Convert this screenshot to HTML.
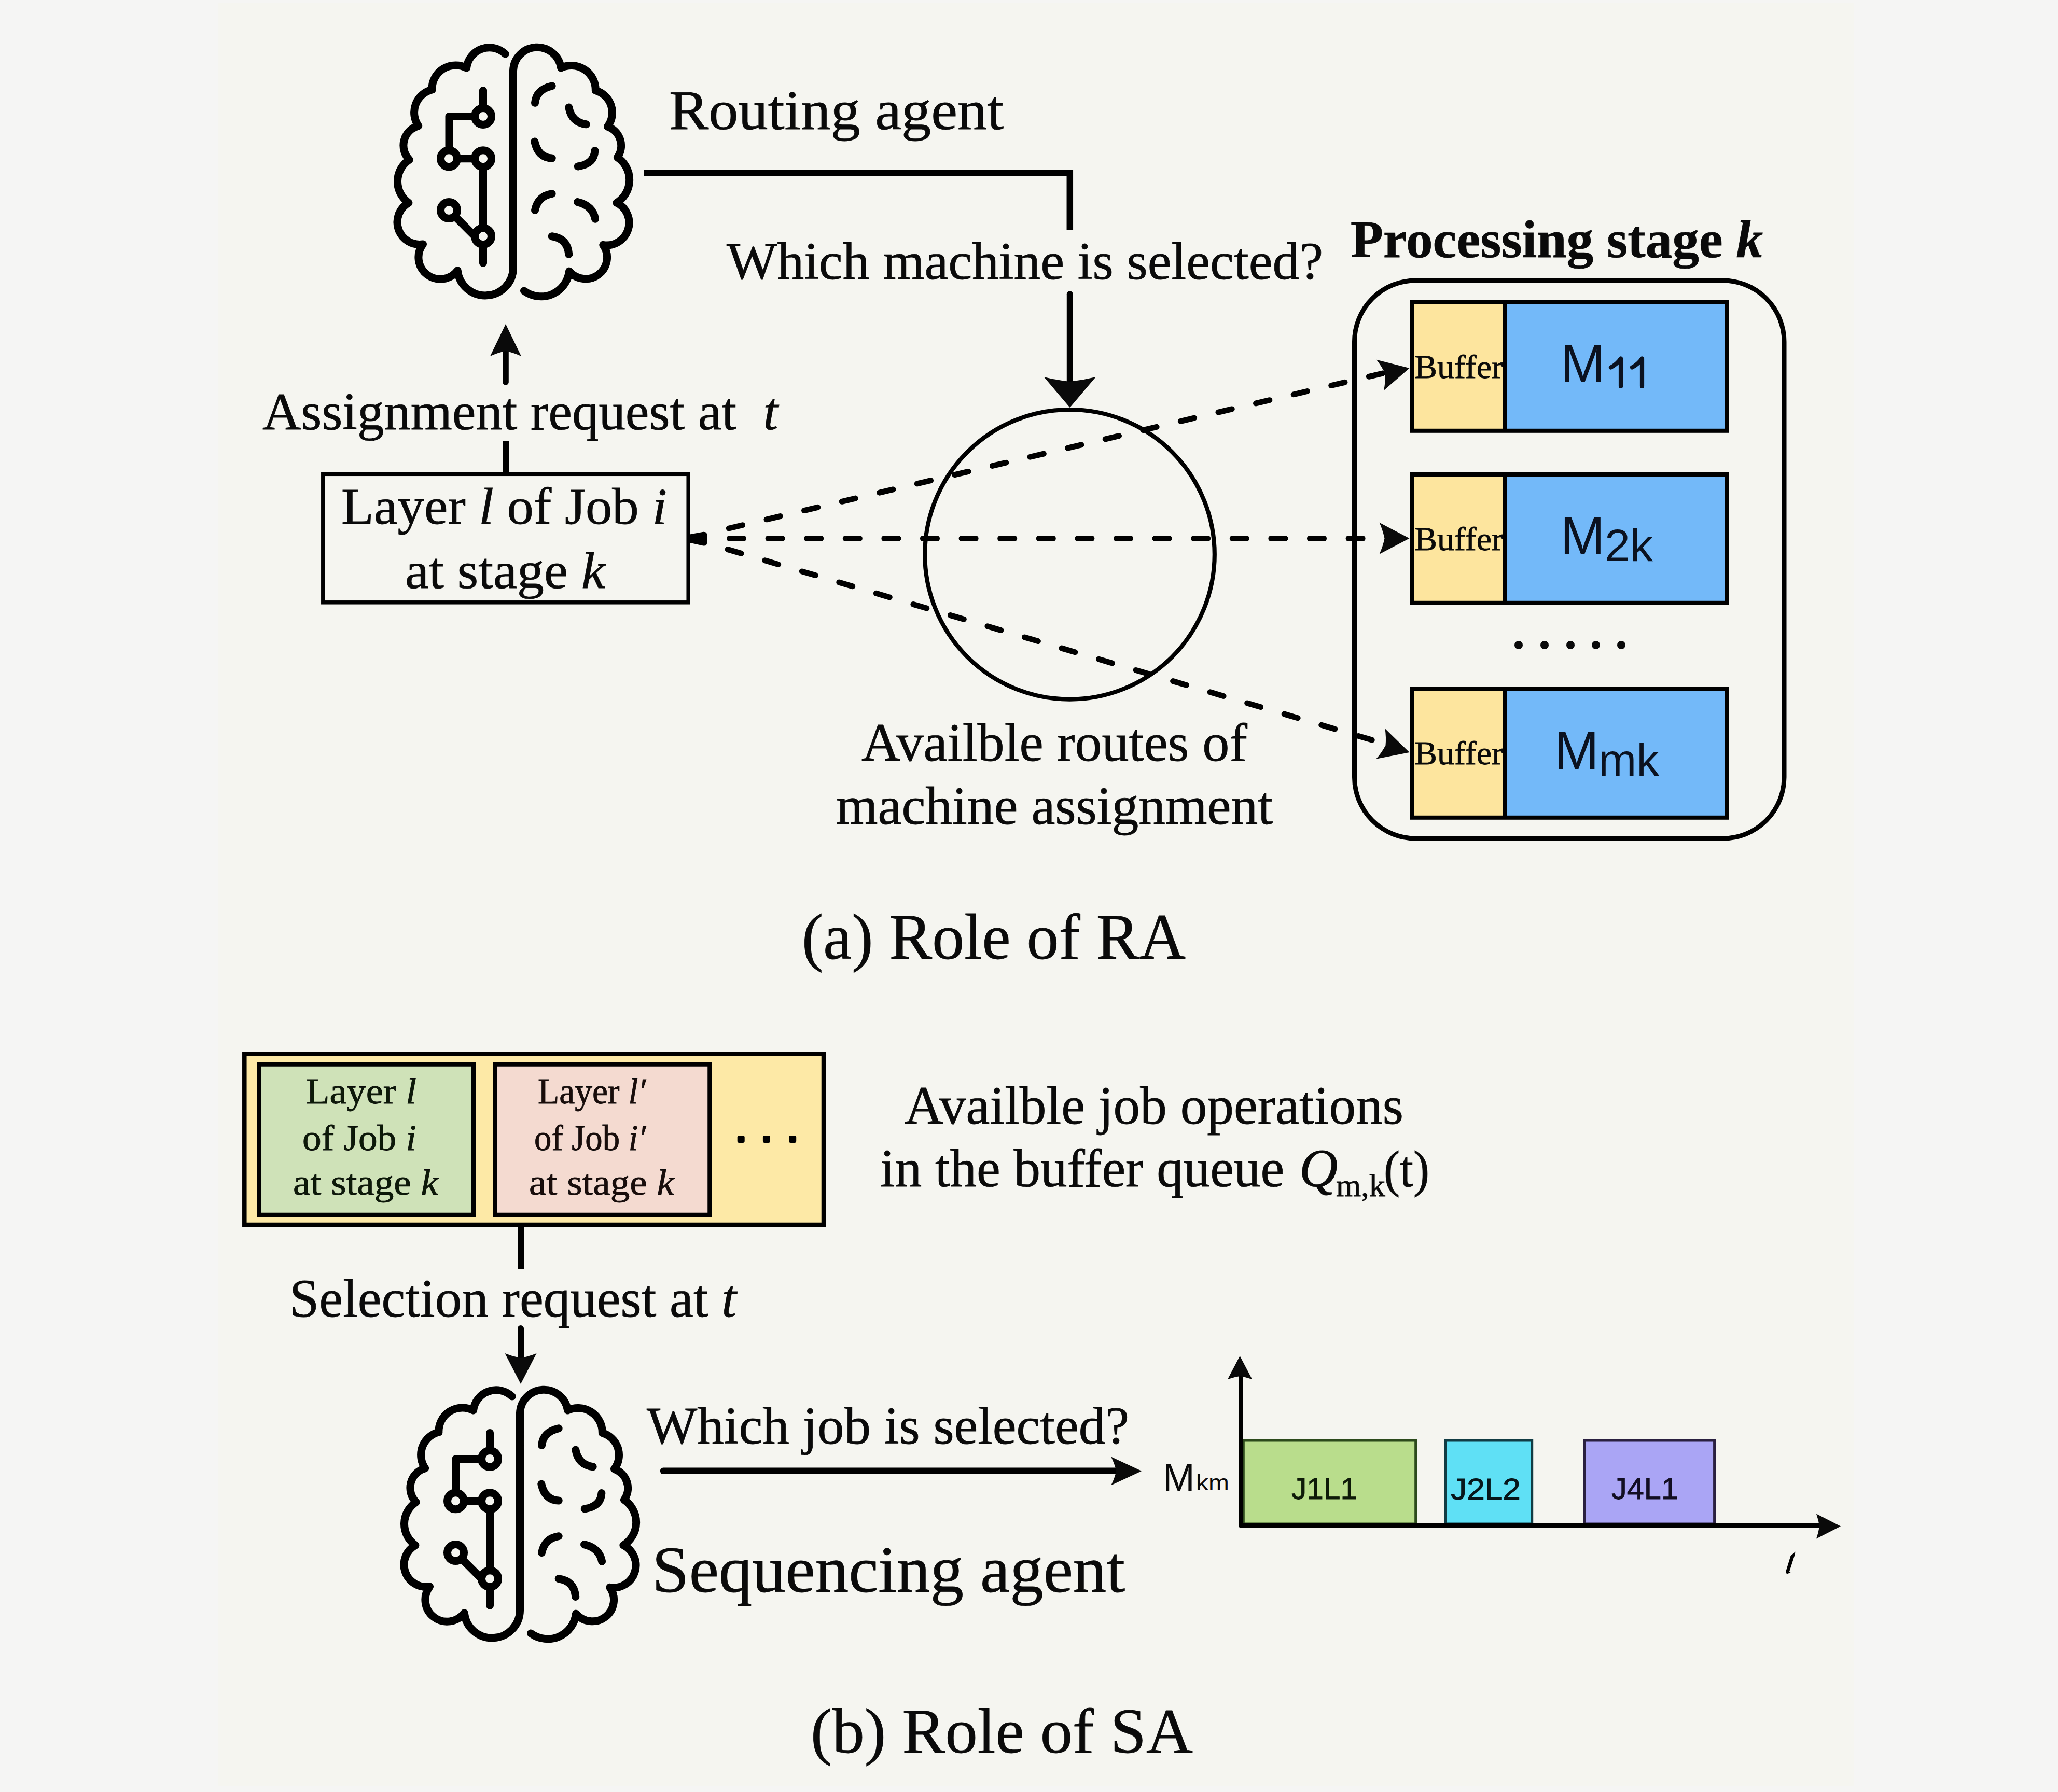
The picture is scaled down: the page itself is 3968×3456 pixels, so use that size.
<!DOCTYPE html>
<html><head><meta charset="utf-8"><style>
html,body{margin:0;padding:0;background:#f5f5f4;}
svg{display:block;} text{white-space:pre;} text.s{stroke:#0a0a0a;stroke-width:0.8px;}
</style></head><body>
<svg width="3968" height="3456" viewBox="0 0 3968 3456">
<rect width="3968" height="3456" fill="#f5f5f4"/>
<rect x="420" y="5" width="3155" height="3439" fill="#f5f5f0"/>
<g fill="#0a0a0a">
<g fill="none" stroke="#000" stroke-width="15" stroke-linecap="round" stroke-linejoin="round"><path d="M974.3,104.1A44.3,44.3 0 0 0 899.6,131.0A45.7,45.7 0 0 0 832.9,173.0A45.2,45.2 0 0 0 806.7,242.7A39.1,39.1 0 0 0 789.3,308.0A50.1,50.1 0 0 0 787.9,391.1A42.9,42.9 0 0 0 815.5,470.9A41.9,41.9 0 0 0 882.2,521.7A53.8,53.8 0 0 0 989.5,517.0L989.5,136A46.3,46.3 0 0 1 1081.6,130.9A46.9,46.9 0 0 1 1148.3,174.5A44.5,44.5 0 0 1 1171.5,244.1A39.1,39.1 0 0 1 1190.4,303.6A51.9,51.9 0 0 1 1188.9,391.1A43.1,43.1 0 0 1 1162.8,472.3A41.4,41.4 0 0 1 1097.5,523.1A54.6,54.6 0 0 1 1010.5,560.9"/><path d="M1031.5,198.4Q1034.0,172.7 1064.2,165.8"/><path d="M1096.8,207.1Q1101.9,235.8 1130.2,239.8"/><path d="M1030.8,273.1Q1037.3,303.7 1064.2,305.1"/><path d="M1146.9,290.5Q1145.8,316.0 1114.2,321.0"/><path d="M1031.5,405.6Q1037.0,378.0 1064.2,373.7"/><path d="M1113.5,389.6Q1142.9,396.6 1147.6,422.3"/><path d="M1064.2,455.7Q1094.3,459.9 1096.8,490.5"/><circle cx="931.5" cy="224.5" r="16"/><circle cx="865.5" cy="305.8" r="16"/><circle cx="931.5" cy="305.8" r="16"/><circle cx="931.5" cy="455.7" r="16"/><circle cx="865.5" cy="405.6" r="16"/><path d="M931.5,174.5V208.5M915.5,224.5H866V289.8M881.5,305.8H915.5M931.5,321.8V439.7M876.8,416.9L915.5,455.6M931.5,471.7V507.2" stroke-linecap="butt"/><path d="M931.5,174.5V180M931.5,500V507.2"/></g>
<g transform="translate(13,2589)" fill="none" stroke="#000" stroke-width="15" stroke-linecap="round" stroke-linejoin="round"><path d="M974.3,104.1A44.3,44.3 0 0 0 899.6,131.0A45.7,45.7 0 0 0 832.9,173.0A45.2,45.2 0 0 0 806.7,242.7A39.1,39.1 0 0 0 789.3,308.0A50.1,50.1 0 0 0 787.9,391.1A42.9,42.9 0 0 0 815.5,470.9A41.9,41.9 0 0 0 882.2,521.7A53.8,53.8 0 0 0 989.5,517.0L989.5,136A46.3,46.3 0 0 1 1081.6,130.9A46.9,46.9 0 0 1 1148.3,174.5A44.5,44.5 0 0 1 1171.5,244.1A39.1,39.1 0 0 1 1190.4,303.6A51.9,51.9 0 0 1 1188.9,391.1A43.1,43.1 0 0 1 1162.8,472.3A41.4,41.4 0 0 1 1097.5,523.1A54.6,54.6 0 0 1 1010.5,560.9"/><path d="M1031.5,198.4Q1034.0,172.7 1064.2,165.8"/><path d="M1096.8,207.1Q1101.9,235.8 1130.2,239.8"/><path d="M1030.8,273.1Q1037.3,303.7 1064.2,305.1"/><path d="M1146.9,290.5Q1145.8,316.0 1114.2,321.0"/><path d="M1031.5,405.6Q1037.0,378.0 1064.2,373.7"/><path d="M1113.5,389.6Q1142.9,396.6 1147.6,422.3"/><path d="M1064.2,455.7Q1094.3,459.9 1096.8,490.5"/><circle cx="931.5" cy="224.5" r="16"/><circle cx="865.5" cy="305.8" r="16"/><circle cx="931.5" cy="305.8" r="16"/><circle cx="931.5" cy="455.7" r="16"/><circle cx="865.5" cy="405.6" r="16"/><path d="M931.5,174.5V208.5M915.5,224.5H866V289.8M881.5,305.8H915.5M931.5,321.8V439.7M876.8,416.9L915.5,455.6M931.5,471.7V507.2" stroke-linecap="butt"/><path d="M931.5,174.5V180M931.5,500V507.2"/></g>
<path d="M1241,333.8H2062.8V442.9" fill="none" stroke="#000" stroke-width="12.5" stroke-linejoin="miter"/>
<path d="M2062.8,567.3V755" fill="none" stroke="#000" stroke-width="12" stroke-linecap="round"/>
<path d="M2062.8,786.0L2012.8,727.0Q2037.8,733.3 2062.8,736.0Q2087.8,733.3 2112.8,727.0Z"/>
<circle cx="2062.5" cy="1069.3" r="279.3" fill="none" stroke="#000" stroke-width="8.2"/>
<path d="M975,737V655" fill="none" stroke="#000" stroke-width="11.6" stroke-linecap="round"/>
<path d="M975.0,625.0L1005.0,687.0Q990.0,680.0 975.0,677.0Q960.0,680.0 945.0,687.0Z"/>
<path d="M975,850V911" fill="none" stroke="#000" stroke-width="12"/>
<rect x="622.8" y="914.3" width="704.4" height="247.5" fill="none" stroke="#000" stroke-width="7.5"/>
<path d="M1330,1030.6L1356,1025.8Q1363.5,1025 1363.5,1033L1363.5,1045Q1363.5,1053.5 1356,1052.5L1330,1046.7Z" fill="#000"/>
<path d="M1364.0,1038.5L2665.0,1038.5" fill="none" stroke="#000" stroke-width="11" stroke-linecap="round" stroke-dasharray="27 47.6" stroke-dashoffset="32.1"/>
<path d="M1364.0,1028.8L2668.0,719.5" fill="none" stroke="#000" stroke-width="11" stroke-linecap="round" stroke-dasharray="27 47.6" stroke-dashoffset="32.1"/>
<path d="M1364.0,1048.0L2655.0,1430.0" fill="none" stroke="#000" stroke-width="11" stroke-linecap="round" stroke-dasharray="27 47.6" stroke-dashoffset="33.7"/>
<path d="M2717.5,1038.3L2659.5,1068.8Q2666.5,1053.5 2669.5,1038.3Q2666.5,1023.0 2659.5,1007.8Z"/>
<path d="M2717.5,710.0L2668.1,753.1Q2671.4,736.6 2670.8,721.1Q2664.4,706.9 2654.0,693.7Z"/>
<path d="M2717.5,1451.0L2653.2,1463.8Q2664.3,1451.2 2671.5,1437.4Q2672.9,1421.9 2670.5,1405.3Z"/>
<rect x="2611.5" y="541" width="828.5" height="1076" rx="118" ry="118" fill="none" stroke="#000" stroke-width="9"/>
<rect x="2722.3" y="583.0" width="179" height="247.8" fill="#fde59e"/><rect x="2901.4" y="583.0" width="428" height="247.8" fill="#73b9f9"/><rect x="2722.3" y="583.0" width="607" height="247.8" fill="none" stroke="#000" stroke-width="8"/><path d="M2901.4,583.0V830.8" stroke="#000" stroke-width="8"/><text class="s" x="2727.0" y="729.0" font-size="64.0" font-weight="normal" font-family='"Liberation Serif", serif' textLength="171.0" lengthAdjust="spacingAndGlyphs">Buffer</text><text x="3009.0" y="737.0" font-size="103.0" font-weight="normal" font-family='"Liberation Sans", sans-serif' fill="#0b1220">M</text><path d="M3106.0,708.5Q3118.0,702 3125.0,691.5V745" fill="none" stroke="#0b1220" stroke-width="8.2" stroke-linecap="round" stroke-linejoin="round"/><path d="M3147.0,708.5Q3159.0,702 3166.0,691.5V745" fill="none" stroke="#0b1220" stroke-width="8.2" stroke-linecap="round" stroke-linejoin="round"/>
<rect x="2722.3" y="915.0" width="179" height="247.8" fill="#fde59e"/><rect x="2901.4" y="915.0" width="428" height="247.8" fill="#73b9f9"/><rect x="2722.3" y="915.0" width="607" height="247.8" fill="none" stroke="#000" stroke-width="8"/><path d="M2901.4,915.0V1162.8" stroke="#000" stroke-width="8"/><text class="s" x="2727.0" y="1061.0" font-size="64.0" font-weight="normal" font-family='"Liberation Serif", serif' textLength="171.0" lengthAdjust="spacingAndGlyphs">Buffer</text><text x="3008.5" y="1069.0" font-size="103.0" font-weight="normal" font-family='"Liberation Sans", sans-serif' fill="#0b1220">M</text><text x="3094.0" y="1081.7" font-size="88.0" font-weight="normal" font-family='"Liberation Sans", sans-serif' fill="#0b1220">2k</text>
<rect x="2722.3" y="1329.0" width="179" height="247.8" fill="#fde59e"/><rect x="2901.4" y="1329.0" width="428" height="247.8" fill="#73b9f9"/><rect x="2722.3" y="1329.0" width="607" height="247.8" fill="none" stroke="#000" stroke-width="8"/><path d="M2901.4,1329.0V1576.8" stroke="#000" stroke-width="8"/><text class="s" x="2727.0" y="1474.0" font-size="64.0" font-weight="normal" font-family='"Liberation Serif", serif' textLength="171.0" lengthAdjust="spacingAndGlyphs">Buffer</text><text x="2997.0" y="1483.3" font-size="103.0" font-weight="normal" font-family='"Liberation Sans", sans-serif' fill="#0b1220">M</text><text x="3082.0" y="1495.5" font-size="88.0" font-weight="normal" font-family='"Liberation Sans", sans-serif' fill="#0b1220">mk</text>
<circle cx="2928.0" cy="1244" r="8"/>
<circle cx="2978.0" cy="1244" r="8"/>
<circle cx="3028.0" cy="1244" r="8"/>
<circle cx="3077.0" cy="1244" r="8"/>
<circle cx="3126.0" cy="1244" r="8"/>
<text class="s" x="1290.0" y="249.0" font-size="108.0" font-weight="normal" font-family='"Liberation Serif", serif' textLength="645.0" lengthAdjust="spacingAndGlyphs">Routing agent</text>
<text class="s" x="1401.0" y="538.0" font-size="102.0" font-weight="normal" font-family='"Liberation Serif", serif' textLength="1150.0" lengthAdjust="spacingAndGlyphs">Which machine is selected?</text>
<text class="s" x="2604.0" y="496.0" font-size="102.0" font-weight="bold" font-family='"Liberation Serif", serif' textLength="795.0" lengthAdjust="spacingAndGlyphs">Processing stage <tspan font-style="italic">k</tspan></text>
<text class="s" x="506.0" y="828.0" font-size="101.0" font-weight="normal" font-family='"Liberation Serif", serif' textLength="994.0" lengthAdjust="spacingAndGlyphs">Assignment request at  <tspan font-style="italic">t</tspan></text>
<text class="s" x="658.0" y="1010.0" font-size="100.0" font-weight="normal" font-family='"Liberation Serif", serif' textLength="628.0" lengthAdjust="spacingAndGlyphs">Layer <tspan font-style="italic">l</tspan> of Job <tspan font-style="italic">i</tspan></text>
<text class="s" x="781.0" y="1134.0" font-size="100.0" font-weight="normal" font-family='"Liberation Serif", serif' textLength="386.0" lengthAdjust="spacingAndGlyphs">at stage <tspan font-style="italic">k</tspan></text>
<text class="s" x="1661.0" y="1467.0" font-size="103.0" font-weight="normal" font-family='"Liberation Serif", serif' textLength="744.0" lengthAdjust="spacingAndGlyphs">Availble routes of</text>
<text class="s" x="1612.0" y="1589.0" font-size="103.0" font-weight="normal" font-family='"Liberation Serif", serif' textLength="842.0" lengthAdjust="spacingAndGlyphs">machine assignment</text>
<text class="s" x="1546.0" y="1848.6" font-size="124.0" font-weight="normal" font-family='"Liberation Serif", serif' textLength="740.0" lengthAdjust="spacingAndGlyphs">(a) Role of RA</text>
<rect x="471.3" y="2032.3" width="1116.7" height="329.7" fill="#fde9a6" stroke="#000" stroke-width="8.5"/>
<rect x="499.3" y="2052.5" width="413.5" height="290.5" fill="#cfe2b8" stroke="#000" stroke-width="8.5"/>
<rect x="954.5" y="2052.5" width="414" height="290.5" fill="#f4dad0" stroke="#000" stroke-width="8.5"/>
<rect x="1421.7" y="2190" width="14" height="14" rx="3.5" fill="#000"/>
<rect x="1470.9" y="2190" width="14" height="14" rx="3.5" fill="#000"/>
<rect x="1521.2" y="2190" width="14" height="14" rx="3.5" fill="#000"/>
<text class="s" x="590.0" y="2128.0" font-size="69.0" font-weight="normal" font-family='"Liberation Serif", serif' textLength="213.0" lengthAdjust="spacingAndGlyphs" fill="#0c1a08">Layer <tspan font-style="italic">l</tspan></text>
<text class="s" x="583.0" y="2218.0" font-size="69.0" font-weight="normal" font-family='"Liberation Serif", serif' textLength="220.0" lengthAdjust="spacingAndGlyphs" fill="#0c1a08">of Job <tspan font-style="italic">i</tspan></text>
<text class="s" x="565.0" y="2304.0" font-size="69.0" font-weight="normal" font-family='"Liberation Serif", serif' textLength="280.0" lengthAdjust="spacingAndGlyphs" fill="#0c1a08">at stage <tspan font-style="italic">k</tspan></text>
<text class="s" x="1037.0" y="2128.0" font-size="69.0" font-weight="normal" font-family='"Liberation Serif", serif' textLength="208.0" lengthAdjust="spacingAndGlyphs" fill="#1a0c0a">Layer <tspan font-style="italic">l′</tspan></text>
<text class="s" x="1030.0" y="2218.0" font-size="69.0" font-weight="normal" font-family='"Liberation Serif", serif' textLength="215.0" lengthAdjust="spacingAndGlyphs" fill="#1a0c0a">of Job <tspan font-style="italic">i′</tspan></text>
<text class="s" x="1020.0" y="2304.0" font-size="69.0" font-weight="normal" font-family='"Liberation Serif", serif' textLength="280.0" lengthAdjust="spacingAndGlyphs" fill="#1a0c0a">at stage <tspan font-style="italic">k</tspan></text>
<text class="s" x="1744.0" y="2167.0" font-size="103.0" font-weight="normal" font-family='"Liberation Serif", serif' textLength="962.0" lengthAdjust="spacingAndGlyphs">Availble job operations</text>
<text class="s" x="1697.0" y="2288.0" font-size="103.0" font-weight="normal" font-family='"Liberation Serif", serif' textLength="805.0" lengthAdjust="spacingAndGlyphs">in the buffer queue </text>
<text class="s" x="2505.0" y="2288.0" font-size="103.0" font-weight="normal" font-family='"Liberation Serif", serif' font-style="italic">Q</text>
<text class="s" x="2576.0" y="2307.0" font-size="62.0" font-weight="normal" font-family='"Liberation Serif", serif'>m,k</text>
<text class="s" x="2668.0" y="2288.0" font-size="100.0" font-weight="normal" font-family='"Liberation Serif", serif' textLength="88.0" lengthAdjust="spacingAndGlyphs">(t)</text>
<path d="M1004,2365V2447" fill="none" stroke="#000" stroke-width="12"/>
<text class="s" x="558.0" y="2539.0" font-size="103.0" font-weight="normal" font-family='"Liberation Serif", serif' textLength="862.0" lengthAdjust="spacingAndGlyphs">Selection request at <tspan font-style="italic">t</tspan></text>
<path d="M1004,2562V2640" fill="none" stroke="#000" stroke-width="12" stroke-linecap="round"/>
<path d="M1004.0,2669.0L973.5,2610.0Q988.8,2616.3 1004.0,2619.0Q1019.2,2616.3 1034.5,2610.0Z"/>
<text class="s" x="1247.0" y="2784.0" font-size="102.5" font-weight="normal" font-family='"Liberation Serif", serif' textLength="930.0" lengthAdjust="spacingAndGlyphs">Which job is selected?</text>
<path d="M1279,2836.8H2172" fill="none" stroke="#000" stroke-width="12.5" stroke-linecap="round"/>
<path d="M2201.2,2836.9L2142.2,2864.4Q2149.2,2850.7 2152.2,2836.9Q2149.2,2823.2 2142.2,2809.4Z"/>
<text class="s" x="1257.0" y="3070.0" font-size="126.0" font-weight="normal" font-family='"Liberation Serif", serif' textLength="912.0" lengthAdjust="spacingAndGlyphs">Sequencing agent</text>
<text class="s" x="1563.0" y="3380.0" font-size="123.0" font-weight="normal" font-family='"Liberation Serif", serif' textLength="737.0" lengthAdjust="spacingAndGlyphs">(b) Role of SA</text>
<rect x="2397.3" y="2778" width="332.4" height="161" fill="#b9dd8c" stroke="#2c4a1c" stroke-width="5"/>
<rect x="2786.5" y="2778" width="167.2" height="161" fill="#5fe0f5" stroke="#123c44" stroke-width="5"/>
<rect x="3055" y="2778" width="250.6" height="161" fill="#aaa5f5" stroke="#2a2040" stroke-width="5"/>
<path d="M2392.6,2645V2942.5H3520" fill="none" stroke="#000" stroke-width="8.8" stroke-linejoin="round"/>
<path d="M2390.6,2615.0L2414.2,2660.0Q2402.4,2655.8 2390.6,2654.0Q2378.8,2655.8 2367.0,2660.0Z"/>
<path d="M3549.0,2943.5L3502.0,2967.5Q3506.2,2955.5 3508.0,2943.5Q3506.2,2931.5 3502.0,2919.5Z"/>
<text x="2490.0" y="2890.5" font-size="58.0" font-weight="normal" font-family='"Liberation Sans", sans-serif' textLength="127.0" lengthAdjust="spacingAndGlyphs" fill="#0e1a08" stroke="#0e1a08" stroke-width="0.9">J1L1</text>
<text x="2797.0" y="2891.5" font-size="58.0" font-weight="normal" font-family='"Liberation Sans", sans-serif' textLength="135.0" lengthAdjust="spacingAndGlyphs" fill="#07161a" stroke="#07161a" stroke-width="0.9">J2L2</text>
<text x="3107.0" y="2890.5" font-size="58.0" font-weight="normal" font-family='"Liberation Sans", sans-serif' textLength="129.0" lengthAdjust="spacingAndGlyphs" fill="#120e22" stroke="#120e22" stroke-width="0.9">J4L1</text>
<text x="2242.0" y="2875.4" font-size="74.0" font-weight="normal" font-family='"Liberation Sans", sans-serif'>M</text>
<text x="2306.0" y="2874.0" font-size="42.0" font-weight="normal" font-family='"Liberation Sans", sans-serif' textLength="64.0" lengthAdjust="spacingAndGlyphs">km</text>
<path d="M3461.5,2992.5Q3458,2996 3452.5,3000.5L3443.5,3030Q3442.5,3035 3446.5,3035Q3450,3034 3453.5,3031.5L3450,3031L3458.5,3004.5Q3461,2999 3461.5,2992.5Z" fill="#000"/>
</g>
</svg>
</body></html>
